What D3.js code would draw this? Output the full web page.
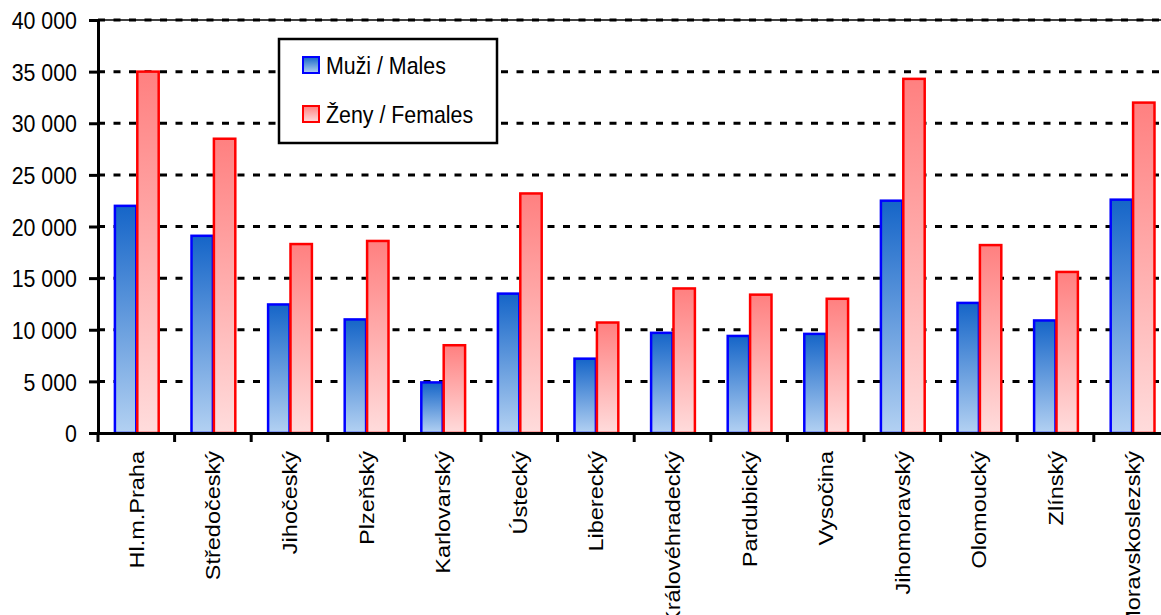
<!DOCTYPE html>
<html lang="cs">
<head>
<meta charset="UTF-8">
<title>Muži / Ženy podle krajů</title>
<script src="https://d3js.org/d3.v7.min.js"></script>
<style>
  body { margin: 0; background: #fff; }
  svg { font-family: "Liberation Sans", Arial, sans-serif; display: block; }
  .grid line { stroke: #000; stroke-width: 3; stroke-dasharray: 7 8.5; }
</style>
</head>
<body>
<svg id="chart" width="1161" height="615"></svg>
<script>
// data
const regions = ["Hl.m.Praha", "Středočeský", "Jihočeský", "Plzeňský", "Karlovarský", "Ústecký",
  "Liberecký", "Královéhradecký", "Pardubický", "Vysočina", "Jihomoravský", "Olomoucký",
  "Zlínský", "Moravskoslezský"];
const males   = [22000, 19100, 12450, 11000, 4900, 13500, 7200, 9700, 9400, 9600, 22500, 12600, 10900, 22600];
const females = [35000, 28500, 18300, 18600, 8500, 23200, 10700, 14000, 13400, 13000, 34300, 18200, 15600, 32000];
const seriesNames = ["Muži / Males", "Ženy / Females"];
const yTicks = [0, 5000, 10000, 15000, 20000, 25000, 30000, 35000, 40000];

const svg = d3.select("#chart");
const mLeft = 98, mTop = 20, mBottom = 433, step = 76.6;
const mRight = mLeft + step * regions.length;
const squeeze = 0.89; // text in the original is a bit narrow

// gradients
const defs = svg.append("defs");
function grad(id, c1, c2) {
  const g = defs.append("linearGradient").attr("id", id)
    .attr("x1", 0).attr("y1", 0).attr("x2", 0).attr("y2", 1);
  g.append("stop").attr("offset", "0%").attr("stop-color", c1);
  g.append("stop").attr("offset", "100%").attr("stop-color", c2);
}
grad("gMale", "#1565c8", "#b3d1f2");
grad("gFemale", "#ff8080", "#ffdcdc");

const x = d3.scaleBand().domain(regions).range([mLeft, mRight]).paddingInner(0).paddingOuter(0);
const x1 = d3.scaleBand().domain([0, 1]).range([0, x.bandwidth()]).paddingOuter(0.71);
const y = d3.scaleLinear().domain([0, 40000]).range([mBottom, mTop]);

// top border + grid
svg.append("line").attr("x1", mLeft).attr("x2", 1161).attr("y1", y(40000)).attr("y2", y(40000))
  .attr("stroke", "#000").attr("stroke-width", 1.5);
svg.append("g").attr("class", "grid")
  .selectAll("line").data(yTicks.slice(1)).join("line")
  .attr("x1", mLeft).attr("x2", 1161)
  .attr("y1", d => y(d)).attr("y2", d => y(d));

// bars
const groups = svg.append("g").selectAll("g").data(regions).join("g")
  .attr("transform", d => `translate(${x(d)},0)`);

groups.append("rect")
  .attr("x", x1(0) + 1).attr("width", x1.bandwidth() - 1)
  .attr("y", (d, i) => y(males[i])).attr("height", (d, i) => y(0) - y(males[i]))
  .attr("fill", "url(#gMale)").attr("stroke", "#0000ff").attr("stroke-width", 2.5);

groups.append("rect")
  .attr("x", x1(1) + 1).attr("width", x1.bandwidth() - 1)
  .attr("y", (d, i) => y(females[i])).attr("height", (d, i) => y(0) - y(females[i]))
  .attr("fill", "url(#gFemale)").attr("stroke", "#ff0000").attr("stroke-width", 2.5);

// y axis
const yAxis = svg.append("g").attr("transform", `translate(${mLeft},0)`)
  .call(d3.axisLeft(y).tickValues(yTicks).tickSize(9)
    .tickFormat(d => d3.format(",")(d).replace(/,/g, " ")));
yAxis.select(".domain").attr("stroke-width", 3);
yAxis.selectAll(".tick line").attr("stroke-width", 3);
yAxis.selectAll(".tick text")
  .attr("font-size", 24).attr("fill", "#000")
  .attr("x", 0).attr("dy", "0.36em")
  .attr("transform", `translate(-21,0) scale(${squeeze},1)`);

// x axis
const xAxis = svg.append("g").attr("transform", `translate(0,${mBottom})`)
  .call(d3.axisBottom(x).tickSize(0).tickSizeOuter(0));
xAxis.select(".domain").attr("stroke-width", 3);
xAxis.selectAll(".tick text")
  .attr("font-size", 23.5).attr("fill", "#000")
  .attr("text-anchor", "end")
  .attr("x", 0).attr("y", 0).attr("dy", "0.36em")
  .attr("transform", `translate(0,18) scale(${squeeze},1) rotate(-90)`);

// category separators
svg.append("g").selectAll("line").data(regions).join("line")
  .attr("x1", d => x(d)).attr("x2", d => x(d))
  .attr("y1", mBottom).attr("y2", mBottom + 9)
  .attr("stroke", "#000").attr("stroke-width", 3);

// legend
const lg = svg.append("g");
lg.append("rect").attr("x", 279).attr("y", 39).attr("width", 218).attr("height", 104)
  .attr("fill", "#fff").attr("stroke", "#000").attr("stroke-width", 2.5);
const items = [["url(#gMale)", "#0000ff"], ["url(#gFemale)", "#ff0000"]];
items.forEach((it, i) => {
  const yy = 57 + i * 49;
  lg.append("rect").attr("x", 303).attr("y", yy).attr("width", 16).attr("height", 16)
    .attr("fill", it[0]).attr("stroke", it[1]).attr("stroke-width", 2);
  lg.append("text").attr("x", 0).attr("y", 0).attr("dy", "0.36em")
    .attr("transform", `translate(326,${yy + 8}) scale(${squeeze},1)`)
    .attr("font-size", 24).text(seriesNames[i]);
});
</script>
</body>
</html>
